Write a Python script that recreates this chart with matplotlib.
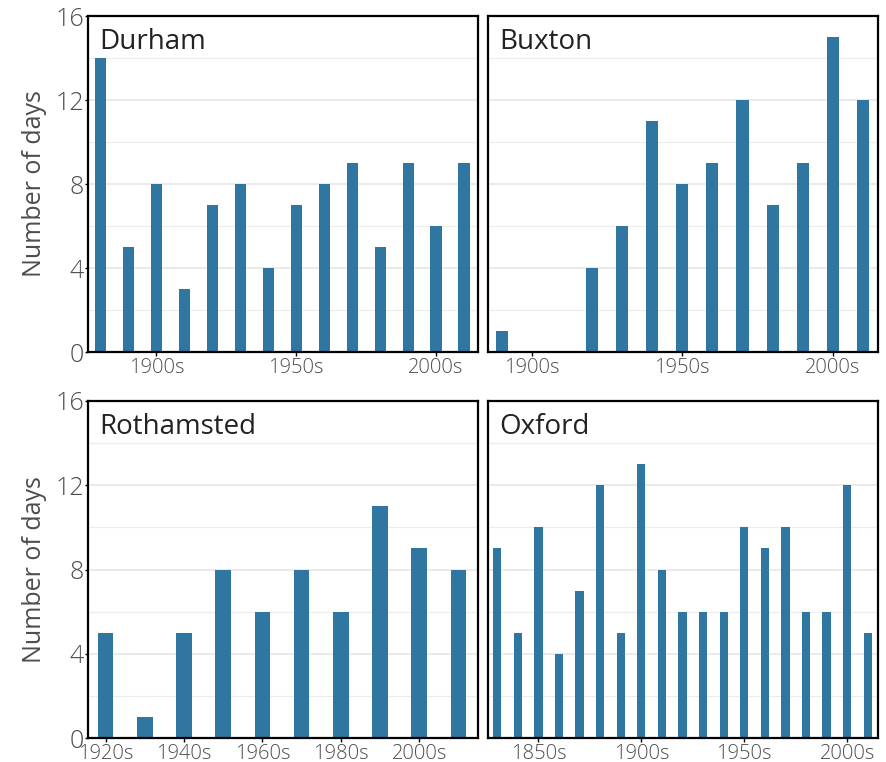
import matplotlib
matplotlib.use("Agg")
import matplotlib.pyplot as plt
from matplotlib.ticker import MultipleLocator

plt.rcParams['font.family'] = ['Open Sans', 'DejaVu Sans']
plt.rcParams['font.weight'] = 'light'

# decades and counts for each site
durham_decades = [1880, 1890, 1900, 1910, 1920, 1930, 1940, 1950, 1960, 1970, 1980, 1990, 2000, 2010]
durham_days = [14, 5, 8, 3, 7, 8, 4, 7, 8, 9, 5, 9, 6, 9]

buxton_decades = [1890, 1900, 1910, 1920, 1930, 1940, 1950, 1960, 1970, 1980, 1990, 2000, 2010]
buxton_days = [1, 0, 0, 4, 6, 11, 8, 9, 12, 7, 9, 15, 12]

rothamsted_decades = [1920, 1930, 1940, 1950, 1960, 1970, 1980, 1990, 2000, 2010]
rothamsted_days = [5, 1, 5, 8, 6, 8, 6, 11, 9, 8]

oxford_decades = [1830, 1840, 1850, 1860, 1870, 1880, 1890, 1900, 1910, 1920,
                  1930, 1940, 1950, 1960, 1970, 1980, 1990, 2000, 2010]
oxford_days = [9, 5, 10, 4, 7, 12, 5, 13, 8, 6, 6, 6, 10, 9, 10, 6, 6, 12, 5]

panels = [
    ("Durham", durham_decades, durham_days, [1900, 1950, 2000]),
    ("Buxton", buxton_decades, buxton_days, [1900, 1950, 2000]),
    ("Rothamsted", rothamsted_decades, rothamsted_days, [1920, 1940, 1960, 1980, 2000]),
    ("Oxford", oxford_decades, oxford_days, [1850, 1900, 1950, 2000]),
]

BAR = '#2f76a0'
W, H = 887, 762
fig = plt.figure(figsize=(W / 100, H / 100), dpi=100)

# axes boxes in pixels: left, top, right, bottom
boxes = [(88, 16, 478, 352), (488, 16, 878, 352),
         (88, 401, 478, 738), (488, 401, 878, 738)]

for i, (name, decades, days, ticks) in enumerate(panels):
    l, t, r, b = boxes[i]
    ax = fig.add_axes([l / W, 1 - b / H, (r - l) / W, (b - t) / H])
    ax.bar(decades, days, width=4, color=BAR, zorder=2)
    ax.set_xlim(decades[0] - 4.5, decades[-1] + 5)
    ax.set_ylim(0, 16)
    ax.yaxis.set_major_locator(MultipleLocator(4))
    ax.yaxis.set_minor_locator(MultipleLocator(2))
    ax.grid(axis='y', which='major', color='#e6e6e6', lw=1.2, zorder=0)
    ax.grid(axis='y', which='minor', color='#ececec', lw=0.8, zorder=0)
    ax.set_xticks(ticks)
    ax.set_xticklabels([f"{d}s" for d in ticks])
    for s in ax.spines.values():
        s.set_color('black')
        s.set_linewidth(1.6)
    ax.tick_params(axis='x', which='major', length=3, width=1, color='black',
                   labelsize=14.5, labelcolor='#4d4d4d', pad=1)
    ax.tick_params(axis='y', which='major', length=2, width=1, color='black',
                   labelsize=18, labelcolor='#4d4d4d', pad=1)
    ax.tick_params(axis='y', which='minor', length=0)
    if i % 2 == 0:
        ax.set_ylabel("Number of days", fontsize=18, color='#4d4d4d', labelpad=6)
    else:
        ax.tick_params(axis='y', labelleft=False, length=0)
    ax.text(0.03, 0.965, name, transform=ax.transAxes, ha='left', va='top',
            fontsize=20, color='#222222', fontweight='normal')

fig.savefig("out.png", dpi=100)
